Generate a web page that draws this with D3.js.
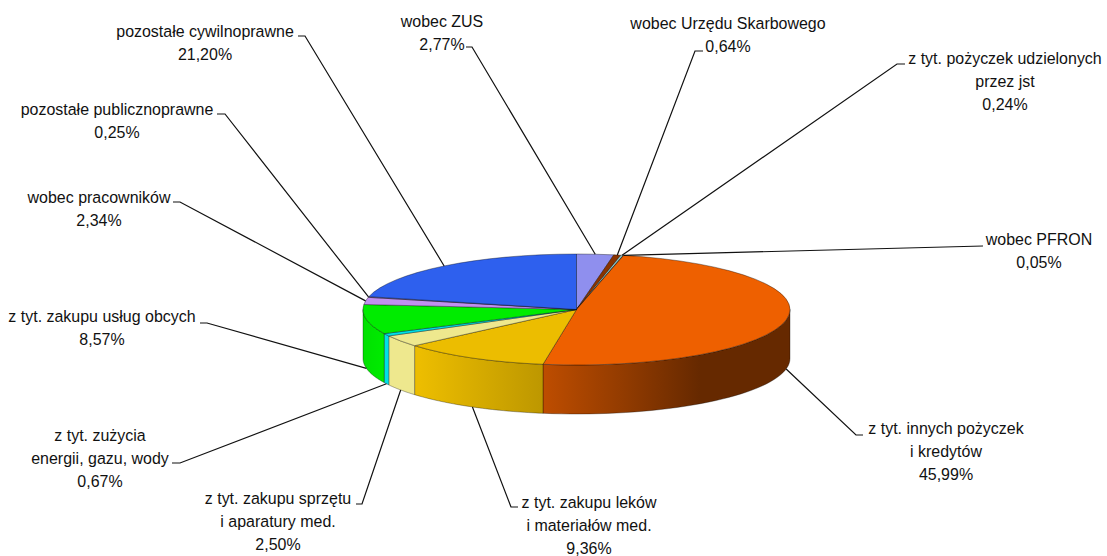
<!DOCTYPE html>
<html>
<head>
<meta charset="utf-8">
<script src="https://cdn.jsdelivr.net/npm/d3@7"></script>
<style>
  body { margin: 0; background: #fff; }
  text { font-family: "Liberation Sans", Arial, sans-serif; font-size: 17px; fill: #111; }
</style>
</head>
<body>
<div id="chart"></div>
<script>
// Data, clockwise from 12 o'clock
const categories = [
  "wobec ZUS", "wobec Urzędu Skarbowego", "z tyt. pożyczek udzielonych\nprzez jst", "wobec PFRON",
  "z tyt. innych pożyczek\ni kredytów", "z tyt. zakupu leków\ni materiałów med.",
  "z tyt. zakupu sprzętu\ni aparatury med.", "z tyt. zużycia\nenergii, gazu, wody",
  "z tyt. zakupu usług obcych", "wobec pracowników", "pozostałe publicznoprawne", "pozostałe cywilnoprawne"
];
// percentages printed on the labels (they add up to 94.58, not 100)
const printedValues = [2.77, 0.64, 0.24, 0.05, 45.99, 9.36, 2.50, 0.67, 8.57, 2.34, 0.25, 21.20];
// sector sizes as they are drawn in the picture, % of the full circle
const drawnShares = [2.8, 0.53, 0.19, 0.03, 49.0, 11.2, 3.4, 0.75, 8.6, 2.08, 0.2, 21.3];
const sliceColors = ["#8f8fee", "#8a3300", "#8fc8c8", "#4a90a0", "#ee6000", "#ecbd00",
                     "#eee88e", "#00e0e8", "#00ec00", "#c090f0", "#a070c0", "#2e60ee"];

// Constant
const width = 1107;
const height = 556;
const cx = 576.5;
const cy = 309.5;
const rx = 213.5;
const ry = 55.5;
const depth = 49;
const lineHeight = 22.8;
const textSqueeze = 0.94;

// label block centre, first baseline, and the elbow of the leader line
const labelLayout = [
  {x: 442,  y: 27,  elbowX: 472, elbowY: 47,  tailX: 466},
  {x: 728,  y: 29,  elbowX: 695, elbowY: 51,  tailX: 703},
  {x: 1005, y: 64,  elbowX: 897, elbowY: 64,  tailX: 905},
  {x: 1039, y: 245, elbowX: 983, elbowY: 246, tailX: 983},
  {x: 946,  y: 434, elbowX: 856, elbowY: 435, tailX: 863},
  {x: 589,  y: 508, elbowX: 511, elbowY: 507, tailX: 518},
  {x: 278,  y: 504, elbowX: 362, elbowY: 504, tailX: 356},
  {x: 100,  y: 441, elbowX: 180, elbowY: 463, tailX: 172},
  {x: 102,  y: 322, elbowX: 207, elbowY: 323, tailX: 200},
  {x: 99,   y: 203, elbowX: 180, elbowY: 202, tailX: 173},
  {x: 117,  y: 115, elbowX: 225, elbowY: 114, tailX: 217},
  {x: 205,  y: 37,  elbowX: 305, elbowY: 36,  tailX: 298}
];

const percentLocale = d3.formatLocale({decimal: ",", thousands: " ", grouping: [3], currency: ["", ""]});
const formatPercent = percentLocale.format(".2f");

// brightness of the side wall along x
const shade = d3.scaleLinear()
  .domain([362, 385, 420, 543, 620, 700, 791])
  .range([0.95, 1, 1, 0.8, 0.62, 0.43, 0.43])
  .clamp(true);

const pie = d3.pie().sort(null).value(d => d);
const slices = pie(drawnShares);

const px = a => cx + rx * Math.sin(a);
const py = a => cy - ry * Math.cos(a);

const svg = d3.select("#chart").append("svg")
  .attr("width", width)
  .attr("height", height)
  .style("display", "block");

const defs = svg.append("defs");

// one gradient per slice so the wall shading runs across the whole pie
slices.forEach((s, i) => {
  const grad = defs.append("linearGradient")
    .attr("id", `side${i}`)
    .attr("gradientUnits", "userSpaceOnUse")
    .attr("x1", shade.domain()[0]).attr("x2", shade.domain()[6])
    .attr("y1", 0).attr("y2", 0);
  shade.domain().forEach(x => {
    const c = d3.rgb(sliceColors[i]);
    const f = shade(x);
    grad.append("stop")
      .attr("offset", (x - shade.domain()[0]) / (shade.domain()[6] - shade.domain()[0]))
      .attr("stop-color", d3.rgb(c.r * f, c.g * f, c.b * f).formatHex());
  });
});

// side walls, only the part that faces the viewer
const sidePath = s => {
  const a0 = Math.max(s.startAngle, Math.PI / 2);
  const a1 = Math.min(s.endAngle, Math.PI * 1.5);
  if (a1 <= a0) return null;
  const steps = d3.range(0, 41).map(k => a0 + (a1 - a0) * k / 40);
  const upper = steps.map(a => [px(a), py(a)]);
  const lower = steps.slice().reverse().map(a => [px(a), py(a) + depth]);
  return d3.line()(upper.concat(lower)) + "Z";
};

svg.append("g").selectAll("path")
  .data(slices.filter(sidePath))
  .join("path")
    .attr("d", sidePath)
    .attr("fill", d => `url(#side${d.index})`)
    .attr("stroke", "#000")
    .attr("stroke-opacity", 0.4)
    .attr("stroke-width", 0.8);

// top face: a flat pie squashed into an ellipse
const arc = d3.arc().innerRadius(0).outerRadius(rx);
svg.append("g")
  .attr("transform", `translate(${cx},${cy}) scale(1,${ry / rx})`)
  .selectAll("path")
  .data(slices)
  .join("path")
    .attr("d", arc)
    .attr("fill", d => sliceColors[d.index])
    .attr("stroke", "#000")
    .attr("stroke-opacity", 0.45)
    .attr("stroke-width", 0.8)
    .attr("vector-effect", "non-scaling-stroke");

// leader lines start at the rim, in the middle of the slice
const leaderLine = d3.line();
svg.append("g").selectAll("path")
  .data(slices)
  .join("path")
    .attr("d", d => {
      const mid = (d.startAngle + d.endAngle) / 2;
      const front = mid > Math.PI / 2 && mid < Math.PI * 1.5;
      const l = labelLayout[d.index];
      return leaderLine([
        [px(mid), py(mid) + (front ? depth : 0)],
        [l.elbowX, l.elbowY],
        [l.tailX, l.elbowY]
      ]);
    })
    .attr("fill", "none")
    .attr("stroke", "#111")
    .attr("stroke-width", 1.2);

// labels
const labels = svg.append("g").selectAll("text")
  .data(categories)
  .join("text")
    .attr("text-anchor", "middle")
    .attr("transform", (d, i) => `translate(${labelLayout[i].x},${labelLayout[i].y}) scale(${textSqueeze},1)`);

labels.each(function (d, i) {
  const rows = d.split("\n").concat(`${formatPercent(printedValues[i])}%`);
  d3.select(this).selectAll("tspan")
    .data(rows)
    .join("tspan")
      .attr("x", 0)
      .attr("y", (r, k) => k * lineHeight)
      .text(r => r);
});
</script>
</body>
</html>
